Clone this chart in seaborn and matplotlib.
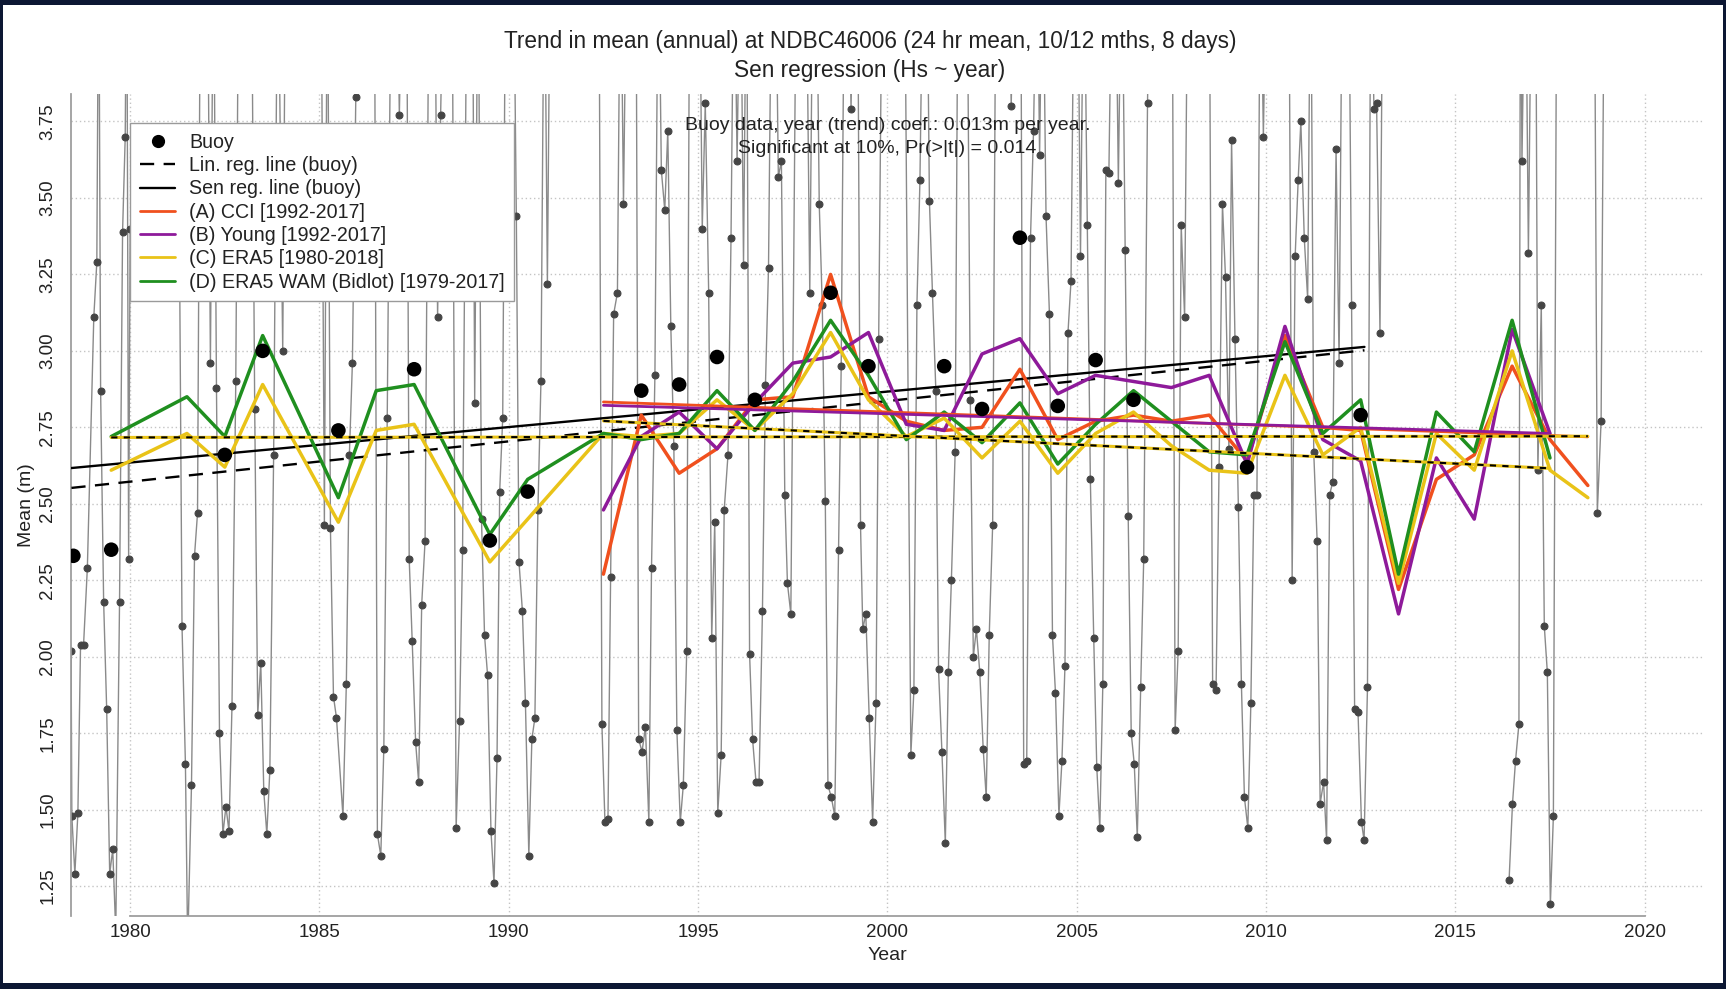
import matplotlib
matplotlib.use('Agg')
import matplotlib.pyplot as plt
from matplotlib.lines import Line2D
from matplotlib.patches import Rectangle
import seaborn as sns

# ---- monthly buoy means (decimal year, Hs); 4.4 = off the top of the chart
seg_1978 = [(1978.44, 2.02), (1978.46, 1.48), (1978.54, 1.29), (1978.62, 1.49), (1978.69, 2.04),
            (1978.77, 2.04), (1978.87, 2.29), (1979.04, 3.11), (1979.12, 3.29), (1979.17, 4.4),
            (1979.22, 2.87), (1979.30, 2.18), (1979.38, 1.83), (1979.46, 1.29), (1979.54, 1.37),
            (1979.62, 1.10), (1979.72, 2.18), (1979.80, 3.39), (1979.87, 3.70), (1979.91, 4.4),
            (1979.96, 2.32), (1980.00, 3.4)]
seg_1981 = [(1981.30, 3.4), (1981.37, 2.10), (1981.46, 1.65), (1981.52, 1.05), (1981.62, 1.58),
            (1981.70, 2.33), (1981.78, 2.47), (1981.86, 4.4), (1982.04, 4.4), (1982.12, 2.96),
            (1982.20, 4.4), (1982.28, 2.88), (1982.36, 1.75), (1982.45, 1.42), (1982.53, 1.51),
            (1982.61, 1.43), (1982.69, 1.84), (1982.79, 2.90), (1982.87, 4.4), (1983.20, 4.4),
            (1983.29, 2.81), (1983.37, 1.81), (1983.45, 1.98), (1983.53, 1.56), (1983.61, 1.42),
            (1983.69, 1.63), (1983.79, 2.66), (1983.90, 4.4), (1984.03, 3.00), (1984.11, 4.4)]
seg_1985 = [(1985.04, 4.4), (1985.13, 2.43), (1985.21, 4.4), (1985.29, 2.42), (1985.37, 1.87),
            (1985.45, 1.80), (1985.62, 1.48), (1985.71, 1.91), (1985.79, 2.66), (1985.87, 2.96),
            (1985.96, 3.83), (1986.04, 4.4), (1986.45, 4.4), (1986.53, 1.42), (1986.62, 1.35),
            (1986.70, 1.70), (1986.79, 2.78), (1986.90, 4.4), (1987.04, 4.4), (1987.11, 3.77),
            (1987.20, 4.4), (1987.30, 4.4), (1987.37, 2.32), (1987.45, 2.05), (1987.54, 1.72),
            (1987.62, 1.59), (1987.70, 2.17), (1987.79, 2.38), (1987.90, 4.4), (1988.04, 4.4),
            (1988.12, 3.11), (1988.20, 3.77), (1988.30, 4.4), (1988.50, 4.4), (1988.61, 1.44),
            (1988.70, 1.79), (1988.78, 2.35), (1988.90, 4.4), (1989.04, 4.4), (1989.10, 2.83),
            (1989.19, 4.4), (1989.28, 2.45), (1989.36, 2.07), (1989.44, 1.94), (1989.53, 1.43),
            (1989.61, 1.26), (1989.69, 1.67), (1989.76, 2.54), (1989.84, 2.78), (1989.92, 4.4),
            (1990.12, 4.4), (1990.20, 3.44), (1990.27, 2.31), (1990.36, 2.15), (1990.44, 1.85),
            (1990.53, 1.35), (1990.61, 1.73), (1990.69, 1.80), (1990.77, 2.48), (1990.85, 2.90),
            (1990.94, 4.4), (1991.02, 3.22), (1991.10, 4.4)]
seg_1992 = [(1992.38, 4.4), (1992.46, 1.78), (1992.54, 1.46), (1992.62, 1.47), (1992.69, 2.26),
            (1992.77, 3.12), (1992.87, 3.19), (1992.95, 4.4), (1993.03, 3.48), (1993.12, 4.4),
            (1993.36, 4.4), (1993.43, 1.73), (1993.52, 1.69), (1993.61, 1.77), (1993.70, 1.46),
            (1993.77, 2.29), (1993.86, 2.92), (1993.95, 4.4), (1994.03, 3.59), (1994.12, 3.46),
            (1994.20, 3.72), (1994.28, 3.08), (1994.36, 2.69), (1994.44, 1.76), (1994.53, 1.46),
            (1994.61, 1.58), (1994.70, 2.02), (1994.78, 4.4), (1995.03, 4.4), (1995.11, 3.40),
            (1995.19, 3.81), (1995.28, 3.19), (1995.36, 2.06), (1995.44, 2.44), (1995.52, 1.49),
            (1995.61, 1.68), (1995.69, 2.48), (1995.79, 2.66), (1995.87, 3.37), (1995.95, 4.4),
            (1996.03, 3.62), (1996.12, 4.4), (1996.20, 3.28), (1996.28, 4.4), (1996.36, 2.01),
            (1996.44, 1.73), (1996.53, 1.59), (1996.61, 1.59), (1996.70, 2.15), (1996.78, 2.89),
            (1996.86, 3.27), (1996.95, 4.4), (1997.04, 4.4), (1997.12, 3.57), (1997.20, 3.62),
            (1997.29, 2.53), (1997.36, 2.24), (1997.45, 2.14), (1997.60, 4.4), (1997.85, 4.4),
            (1997.95, 3.19), (1998.04, 4.4), (1998.12, 4.4), (1998.20, 3.48), (1998.28, 3.15),
            (1998.36, 2.51), (1998.43, 1.58), (1998.52, 1.54), (1998.61, 1.48), (1998.71, 2.35),
            (1998.78, 2.95), (1998.87, 4.4), (1998.96, 4.4), (1999.04, 3.79), (1999.12, 4.4),
            (1999.21, 4.4), (1999.29, 2.43), (1999.35, 2.09), (1999.43, 2.14), (1999.52, 1.80),
            (1999.61, 1.46), (1999.70, 1.85), (1999.77, 3.04), (1999.87, 4.4)]
seg_2000 = [(2000.04, 4.4), (2000.45, 4.4), (2000.62, 1.68), (2000.70, 1.89), (2000.78, 3.15),
            (2000.86, 3.56), (2000.95, 4.4), (2001.04, 4.4), (2001.11, 3.49), (2001.19, 3.19),
            (2001.28, 2.87), (2001.35, 1.96), (2001.44, 1.69), (2001.53, 1.39), (2001.61, 1.95),
            (2001.69, 2.25), (2001.79, 2.67), (2001.87, 4.4), (2002.10, 4.4), (2002.19, 2.84),
            (2002.27, 2.00), (2002.35, 2.09), (2002.44, 1.95), (2002.53, 1.70), (2002.61, 1.54),
            (2002.69, 2.07), (2002.78, 2.43), (2002.87, 4.4), (2003.20, 4.4), (2003.27, 3.80),
            (2003.36, 4.4), (2003.52, 4.4), (2003.60, 1.65), (2003.68, 1.66), (2003.78, 3.37),
            (2003.86, 3.72), (2003.95, 4.4), (2004.02, 3.64), (2004.10, 4.4), (2004.19, 3.44),
            (2004.28, 3.12), (2004.36, 2.07), (2004.44, 1.88), (2004.53, 1.48), (2004.61, 1.66),
            (2004.69, 1.97), (2004.77, 3.06), (2004.85, 3.23), (2004.94, 4.4), (2005.02, 4.4),
            (2005.10, 3.31), (2005.19, 4.4), (2005.28, 3.41), (2005.36, 2.58), (2005.45, 2.06),
            (2005.53, 1.64), (2005.61, 1.44), (2005.69, 1.91), (2005.77, 3.59), (2005.85, 3.58),
            (2005.94, 4.4), (2006.02, 4.4), (2006.10, 3.55), (2006.19, 4.4), (2006.28, 3.33),
            (2006.36, 2.46), (2006.44, 1.75), (2006.52, 1.65), (2006.60, 1.41), (2006.69, 1.90),
            (2006.77, 2.32), (2006.87, 3.81), (2006.95, 4.4)]
seg_2007 = [(2007.04, 4.4), (2007.52, 4.4), (2007.60, 1.76), (2007.68, 2.02), (2007.76, 3.41),
            (2007.85, 3.11), (2007.94, 4.4), (2008.50, 4.4), (2008.59, 1.91), (2008.68, 1.89),
            (2008.76, 2.62), (2008.85, 3.48), (2008.93, 3.24), (2009.02, 2.68), (2009.09, 3.69),
            (2009.18, 3.04), (2009.27, 2.49), (2009.35, 1.91), (2009.43, 1.54), (2009.52, 1.44),
            (2009.60, 1.85), (2009.68, 2.53), (2009.76, 2.53), (2009.85, 4.4), (2009.93, 3.70),
            (2010.02, 4.4), (2010.60, 4.4), (2010.69, 2.25), (2010.77, 3.31), (2010.85, 3.56),
            (2010.92, 3.75), (2011.01, 3.37), (2011.10, 3.17), (2011.18, 4.4), (2011.26, 2.67),
            (2011.35, 2.38), (2011.43, 1.52), (2011.52, 1.59), (2011.60, 1.40), (2011.68, 2.53),
            (2011.76, 2.57), (2011.85, 3.66), (2011.93, 2.96), (2012.02, 4.4), (2012.18, 4.4),
            (2012.26, 3.15), (2012.34, 1.83), (2012.43, 1.82), (2012.52, 1.46), (2012.59, 1.40),
            (2012.68, 1.90), (2012.77, 4.4), (2012.85, 3.79), (2012.92, 3.81), (2013.01, 3.06),
            (2013.09, 4.4)]
seg_2016 = [(2016.42, 1.27), (2016.51, 1.52), (2016.59, 1.66), (2016.68, 1.78), (2016.72, 4.4),
            (2016.76, 3.62), (2016.85, 4.4), (2016.93, 3.32), (2017.02, 4.4), (2017.12, 4.4),
            (2017.18, 2.61), (2017.27, 3.15), (2017.35, 2.10), (2017.43, 1.95), (2017.51, 1.19),
            (2017.59, 1.48), (2017.68, 4.4)]
seg_2018 = [(2018.67, 4.4), (2018.75, 2.47), (2018.85, 2.77), (2018.94, 4.4)]

# ---- annual buoy means
buoy_year = [1978.5, 1979.5, 1982.5, 1983.5, 1985.5, 1987.5, 1989.5, 1990.5, 1993.5, 1994.5, 1995.5,
             1996.5, 1998.5, 1999.5, 2001.5, 2002.5, 2003.5, 2004.5, 2005.5, 2006.5, 2009.5, 2012.5]
buoy_mean = [2.33, 2.35, 2.66, 3.00, 2.74, 2.94, 2.38, 2.54, 2.87, 2.89, 2.98,
             2.84, 3.19, 2.95, 2.95, 2.81, 3.37, 2.82, 2.97, 2.84, 2.62, 2.79]

# ---- regression lines on buoy (end points)
reg_x = [1978.45, 2012.6]
lin_reg_y = [2.552, 3.002]
sen_reg_y = [2.617, 3.013]

# ---- model annual means
cci_year = [1992.5, 1993.5, 1994.5, 1995.5, 1996.5, 1997.5, 1998.5, 1999.5, 2000.5, 2001.5, 2002.5,
            2003.5, 2004.5, 2005.5, 2006.5, 2007.5, 2008.5, 2009.5, 2010.5, 2011.5, 2012.5, 2013.5,
            2014.5, 2015.5, 2016.5, 2017.5, 2018.5]
cci_mean = [2.27, 2.79, 2.60, 2.68, 2.84, 2.85, 3.25, 2.85, 2.77, 2.74, 2.75,
            2.94, 2.71, 2.77, 2.79, 2.77, 2.79, 2.64, 3.05, 2.75, 2.74, 2.22,
            2.58, 2.66, 2.95, 2.71, 2.56]
young_year = [1992.5, 1993.5, 1994.5, 1995.5, 1996.5, 1997.5, 1998.5, 1999.5, 2000.5, 2001.5, 2002.5,
              2003.5, 2004.5, 2005.5, 2006.5, 2007.5, 2008.5, 2009.5, 2010.5, 2011.5, 2012.5, 2013.5,
              2014.5, 2015.5, 2016.5, 2017.5]
young_mean = [2.48, 2.72, 2.80, 2.68, 2.83, 2.96, 2.98, 3.06, 2.76, 2.74, 2.99,
              3.04, 2.86, 2.92, 2.90, 2.88, 2.92, 2.63, 3.08, 2.71, 2.64, 2.14,
              2.65, 2.45, 3.07, 2.73]
era5_year = [1979.5, 1981.5, 1982.5, 1983.5, 1985.5, 1986.5, 1987.5, 1989.5, 1992.5, 1993.5, 1994.5,
             1995.5, 1996.5, 1997.5, 1998.5, 1999.5, 2000.5, 2001.5, 2002.5, 2003.5, 2004.5, 2005.5,
             2006.5, 2007.5, 2008.5, 2009.5, 2010.5, 2011.5, 2012.5, 2013.5, 2014.5, 2015.5, 2016.5,
             2017.5, 2018.5]
era5_mean = [2.61, 2.73, 2.62, 2.89, 2.44, 2.74, 2.76, 2.31, 2.73, 2.72, 2.73,
             2.84, 2.74, 2.86, 3.06, 2.84, 2.72, 2.78, 2.65, 2.77, 2.60, 2.73,
             2.80, 2.69, 2.61, 2.60, 2.92, 2.66, 2.75, 2.24, 2.73, 2.61, 3.00,
             2.61, 2.52]
wam_year = [1979.5, 1981.5, 1982.5, 1983.5, 1985.5, 1986.5, 1987.5, 1989.5, 1990.5, 1992.5, 1993.5,
            1994.5, 1995.5, 1996.5, 1997.5, 1998.5, 1999.5, 2000.5, 2001.5, 2002.5, 2003.5, 2004.5,
            2005.5, 2006.5, 2008.5, 2009.5, 2010.5, 2011.5, 2012.5, 2013.5, 2014.5, 2015.5, 2016.5,
            2017.5]
wam_mean = [2.72, 2.85, 2.72, 3.05, 2.52, 2.87, 2.89, 2.40, 2.58, 2.73, 2.71,
            2.73, 2.87, 2.74, 2.90, 3.10, 2.92, 2.71, 2.80, 2.70, 2.83, 2.63,
            2.76, 2.87, 2.67, 2.66, 3.03, 2.73, 2.84, 2.27, 2.80, 2.67, 3.10,
            2.65]

# ---- model trend lines (end points)
cci_trend_x, cci_trend_y = [1992.5, 2018.5], [2.833, 2.719]
young_trend_x, young_trend_y = [1992.5, 2017.5], [2.822, 2.730]
era5_trend_x, era5_trend_y = [1979.5, 2018.5], [2.717, 2.721]
era5_sub_trend_x, era5_sub_trend_y = [1992.5, 2017.5], [2.771, 2.616]

legend_labels = ['Buoy', 'Lin. reg. line (buoy)', 'Sen reg. line (buoy)', '(A) CCI [1992-2017]',
                 '(B) Young [1992-2017]', '(C) ERA5 [1980-2018]', '(D) ERA5 WAM (Bidlot) [1979-2017]']

C_CCI = '#f0501e'
C_YOUNG = '#8e1a9a'
C_ERA5 = '#e9c318'
C_WAM = '#1f8f1f'

sns.set_theme(style='white')
plt.rcParams['font.family'] = ['Liberation Sans', 'DejaVu Sans']

fig = plt.figure(figsize=(17.26, 9.89), dpi=100, facecolor='#0c1733')
fig.patches.append(Rectangle((0.002, 0.006), 0.996, 0.989, transform=fig.transFigure,
                             facecolor='white', edgecolor='none', zorder=-5))
ax = fig.add_axes([0.0414, 0.074, 0.9459, 0.831])
ax.set_facecolor('white')

# monthly buoy series
for seg in [seg_1978, seg_1981, seg_1985, seg_1992, seg_2000, seg_2007, seg_2016, seg_2018]:
    t = [p[0] for p in seg]
    v = [p[1] for p in seg]
    sns.lineplot(x=t, y=v, ax=ax, color='#8a8a8a', lw=1.0, marker='o', markersize=5,
                 markerfacecolor='#454545', markeredgecolor='#454545', estimator=None,
                 sort=False, legend=False, zorder=2)

# buoy regression lines
sns.lineplot(x=reg_x, y=lin_reg_y, ax=ax, color='black', lw=1.7,
             estimator=None, legend=False, zorder=3)
ax.lines[-1].set_dashes((6, 4))
sns.lineplot(x=reg_x, y=sen_reg_y, ax=ax, color='black', lw=1.7, estimator=None,
             legend=False, zorder=3)

# model annual means
for yr, mn, col in [(cci_year, cci_mean, C_CCI), (young_year, young_mean, C_YOUNG),
                    (era5_year, era5_mean, C_ERA5), (wam_year, wam_mean, C_WAM)]:
    sns.lineplot(x=yr, y=mn, ax=ax, color=col, lw=2.5, estimator=None, legend=False, zorder=4)

# model trend lines
sns.lineplot(x=cci_trend_x, y=cci_trend_y, ax=ax, color=C_CCI, lw=2.0, estimator=None,
             legend=False, zorder=5)
sns.lineplot(x=young_trend_x, y=young_trend_y, ax=ax, color=C_YOUNG, lw=2.0, estimator=None,
             legend=False, zorder=5)
for tx, ty in [(era5_trend_x, era5_trend_y), (era5_sub_trend_x, era5_sub_trend_y)]:
    sns.lineplot(x=tx, y=ty, ax=ax, color=C_ERA5, lw=2.2, estimator=None, legend=False, zorder=5)
    sns.lineplot(x=tx, y=ty, ax=ax, color='black', lw=1.5, estimator=None, legend=False, zorder=5)
    ax.lines[-1].set_dashes((3, 3))

# annual buoy dots
sns.scatterplot(x=buoy_year, y=buoy_mean, ax=ax, color='black', s=110, edgecolor='none',
                legend=False, zorder=6)

ax.set_xlim(1978.45, 2021.57)
ax.set_ylim(1.153, 3.84)
ax.set_xticks([1980, 1985, 1990, 1995, 2000, 2005, 2010, 2015, 2020])
ax.set_yticks([1.25, 1.5, 1.75, 2.0, 2.25, 2.5, 2.75, 3.0, 3.25, 3.5, 3.75])
ax.set_yticklabels([f'{v:.2f}' for v in ax.get_yticks()], rotation=90, va='center')
ax.grid(True, linestyle=(0, (1, 2)), color='#c4c4c4', lw=1.0)
ax.tick_params(length=0, labelsize=13.5, labelcolor='#222222')
ax.tick_params(axis='x', pad=6)
ax.tick_params(axis='y', pad=11)
for s in ['top', 'right']:
    ax.spines[s].set_visible(False)
ax.spines['left'].set_color('#9a9a9a')
ax.spines['bottom'].set_color('#9a9a9a')
ax.spines['bottom'].set_bounds(1980, 2020)

ax.set_xlabel('Year', fontsize=14, color='#222222', labelpad=4)
ax.set_ylabel('Mean (m)', fontsize=14, color='#222222', labelpad=3)

fig.text(0.504, 0.958, 'Trend in mean (annual) at NDBC46006 (24 hr mean, 10/12 mths, 8 days)',
         ha='center', va='center', fontsize=16.3, color='#222222')
fig.text(0.504, 0.929, 'Sen regression (Hs ~ year)', ha='center', va='center',
         fontsize=16.3, color='#222222')

ax.text(2000, 3.738, 'Buoy data, year (trend) coef.: 0.013m per year.', ha='center',
        va='center', fontsize=14, color='#222222', zorder=7)
ax.text(2000, 3.661, 'Significant at 10%, Pr(>|t|) = 0.014', ha='center', va='center',
        fontsize=14, color='#222222', zorder=7)

handles = [Line2D([], [], marker='o', color='black', linestyle='None', markersize=8.5),
           Line2D([], [], color='black', lw=1.7, dashes=(6, 4)),
           Line2D([], [], color='black', lw=1.7),
           Line2D([], [], color=C_CCI, lw=2),
           Line2D([], [], color=C_YOUNG, lw=2),
           Line2D([], [], color=C_ERA5, lw=2),
           Line2D([], [], color=C_WAM, lw=2)]
leg = ax.legend(handles, legend_labels, loc='upper left', bbox_to_anchor=(1980, 3.745),
                bbox_transform=ax.transData, borderaxespad=0, fontsize=14.1, frameon=True,
                fancybox=False, framealpha=1, edgecolor='#9a9a9a', handlelength=1.8,
                handletextpad=0.7, labelspacing=0.22, borderpad=0.5)
leg.set_zorder(8)
leg.get_frame().set_linewidth(1.0)
for txt in leg.get_texts():
    txt.set_color('#222222')

fig.savefig('out.png', dpi=100, facecolor=fig.get_facecolor())
